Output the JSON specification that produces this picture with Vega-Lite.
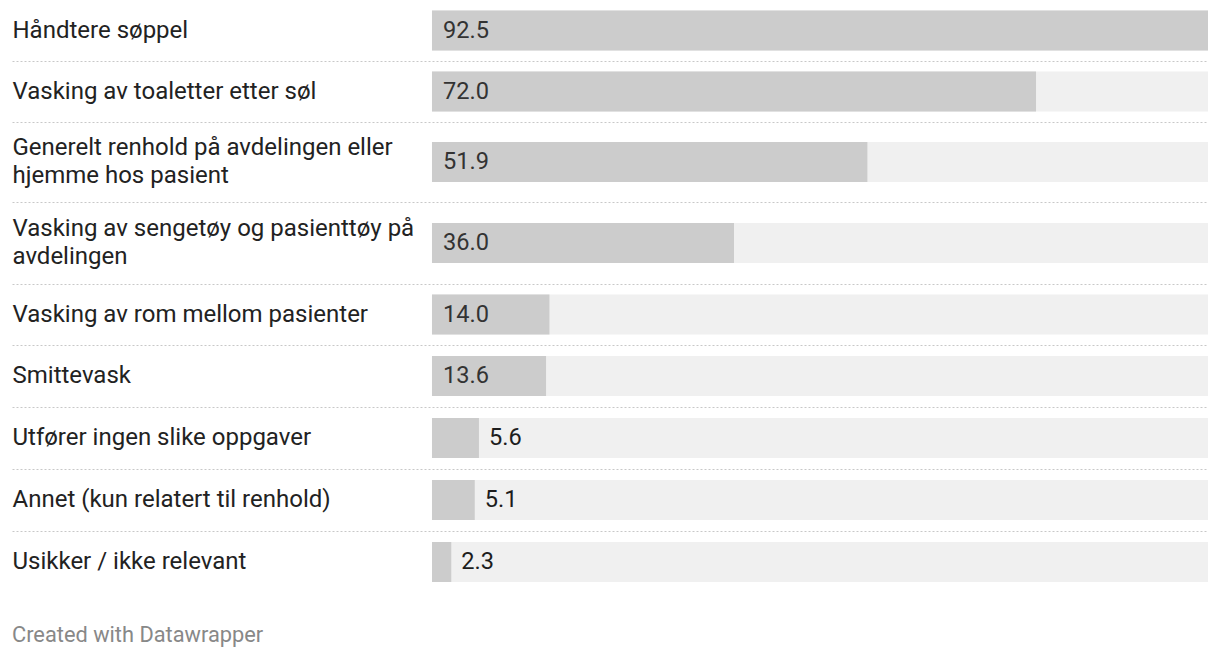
{
  "$schema": "https://vega.github.io/schema/vega-lite/v6.json",
  "padding": {"left": 12, "right": 12, "top": 0, "bottom": 0},
  "autosize": {"type": "pad"},
  "background": "white",
  "data": {"values": [
    {"rank": 1, "label": "Håndtere søppel", "value": 92.5},
    {"rank": 2, "label": "Vasking av toaletter etter søl", "value": 72.0},
    {"rank": 3, "label": "Generelt renhold på avdelingen eller|hjemme hos pasient", "value": 51.9},
    {"rank": 4, "label": "Vasking av sengetøy og pasienttøy på|avdelingen", "value": 36.0},
    {"rank": 5, "label": "Vasking av rom mellom pasienter", "value": 14.0},
    {"rank": 6, "label": "Smittevask", "value": 13.6},
    {"rank": 7, "label": "Utfører ingen slike oppgaver", "value": 5.6},
    {"rank": 8, "label": "Annet (kun relatert til renhold)", "value": 5.1},
    {"rank": 9, "label": "Usikker / ikke relevant", "value": 2.3}
  ]},
  "spacing": 0,
  "title": {"text": "Created with Datawrapper", "orient": "bottom", "anchor": "start", "fontSize": 21.8, "fontWeight": "normal", "font": "Roboto", "color": "#888888", "offset": 32},
  "vconcat": [
    {"width": 1196, "height": 61, "transform": [{"filter": "datum.rank == 1"}],
     "encoding": {"y": {"field": "label", "type": "nominal", "title": null, "scale": {"paddingInner": 0, "paddingOuter": 0}, "axis": {"labelExpr": "split(datum.label, '|')"}}},
     "layer": [
      {"mark": {"type": "bar", "height": 40, "color": "#f0f0f0"}, "encoding": {"x": {"datum": 0, "type": "quantitative", "title": null, "scale": {"domain": [-50.06, 92.5], "nice": false, "zero": false}}, "x2": {"datum": 92.5}}},
      {"mark": {"type": "bar", "height": 40, "color": "#cccccc"}, "encoding": {"x": {"field": "value", "type": "quantitative", "title": null}, "x2": {"datum": 0}}},
      {"mark": {"type": "text", "align": "left", "dx": 11, "fontSize": 23.6, "font": "Roboto", "color": "#333333"}, "encoding": {"x": {"datum": 0, "type": "quantitative", "title": null}, "text": {"field": "value", "type": "quantitative", "format": ".1f"}}}
     ]},
    {"width": 1196, "height": 61, "transform": [{"filter": "datum.rank == 2"}],
     "encoding": {"y": {"field": "label", "type": "nominal", "title": null, "scale": {"paddingInner": 0, "paddingOuter": 0}, "axis": {"labelExpr": "split(datum.label, '|')"}}},
     "layer": [
      {"mark": {"type": "bar", "height": 40, "color": "#f0f0f0"}, "encoding": {"x": {"datum": 0, "type": "quantitative", "title": null, "scale": {"domain": [-50.06, 92.5], "nice": false, "zero": false}}, "x2": {"datum": 92.5}}},
      {"mark": {"type": "bar", "height": 40, "color": "#cccccc"}, "encoding": {"x": {"field": "value", "type": "quantitative", "title": null}, "x2": {"datum": 0}}},
      {"mark": {"type": "text", "align": "left", "dx": 11, "fontSize": 23.6, "font": "Roboto", "color": "#333333"}, "encoding": {"x": {"datum": 0, "type": "quantitative", "title": null}, "text": {"field": "value", "type": "quantitative", "format": ".1f"}}}
     ]},
    {"width": 1196, "height": 80, "transform": [{"filter": "datum.rank == 3"}],
     "encoding": {"y": {"field": "label", "type": "nominal", "title": null, "scale": {"paddingInner": 0, "paddingOuter": 0}, "axis": {"labelExpr": "split(datum.label, '|')", "labelOffset": -14}}},
     "layer": [
      {"mark": {"type": "bar", "height": 40, "color": "#f0f0f0"}, "encoding": {"x": {"datum": 0, "type": "quantitative", "title": null, "scale": {"domain": [-50.06, 92.5], "nice": false, "zero": false}}, "x2": {"datum": 92.5}}},
      {"mark": {"type": "bar", "height": 40, "color": "#cccccc"}, "encoding": {"x": {"field": "value", "type": "quantitative", "title": null}, "x2": {"datum": 0}}},
      {"mark": {"type": "text", "align": "left", "dx": 11, "fontSize": 23.6, "font": "Roboto", "color": "#333333"}, "encoding": {"x": {"datum": 0, "type": "quantitative", "title": null}, "text": {"field": "value", "type": "quantitative", "format": ".1f"}}}
     ]},
    {"width": 1196, "height": 82, "transform": [{"filter": "datum.rank == 4"}],
     "encoding": {"y": {"field": "label", "type": "nominal", "title": null, "scale": {"paddingInner": 0, "paddingOuter": 0}, "axis": {"labelExpr": "split(datum.label, '|')", "labelOffset": -14}}},
     "layer": [
      {"mark": {"type": "bar", "height": 40, "color": "#f0f0f0"}, "encoding": {"x": {"datum": 0, "type": "quantitative", "title": null, "scale": {"domain": [-50.06, 92.5], "nice": false, "zero": false}}, "x2": {"datum": 92.5}}},
      {"mark": {"type": "bar", "height": 40, "color": "#cccccc"}, "encoding": {"x": {"field": "value", "type": "quantitative", "title": null}, "x2": {"datum": 0}}},
      {"mark": {"type": "text", "align": "left", "dx": 11, "fontSize": 23.6, "font": "Roboto", "color": "#333333"}, "encoding": {"x": {"datum": 0, "type": "quantitative", "title": null}, "text": {"field": "value", "type": "quantitative", "format": ".1f"}}}
     ]},
    {"width": 1196, "height": 61, "transform": [{"filter": "datum.rank == 5"}],
     "encoding": {"y": {"field": "label", "type": "nominal", "title": null, "scale": {"paddingInner": 0, "paddingOuter": 0}, "axis": {"labelExpr": "split(datum.label, '|')"}}},
     "layer": [
      {"mark": {"type": "bar", "height": 40, "color": "#f0f0f0"}, "encoding": {"x": {"datum": 0, "type": "quantitative", "title": null, "scale": {"domain": [-50.06, 92.5], "nice": false, "zero": false}}, "x2": {"datum": 92.5}}},
      {"mark": {"type": "bar", "height": 40, "color": "#cccccc"}, "encoding": {"x": {"field": "value", "type": "quantitative", "title": null}, "x2": {"datum": 0}}},
      {"mark": {"type": "text", "align": "left", "dx": 11, "fontSize": 23.6, "font": "Roboto", "color": "#333333"}, "encoding": {"x": {"datum": 0, "type": "quantitative", "title": null}, "text": {"field": "value", "type": "quantitative", "format": ".1f"}}}
     ]},
    {"width": 1196, "height": 62, "transform": [{"filter": "datum.rank == 6"}],
     "encoding": {"y": {"field": "label", "type": "nominal", "title": null, "scale": {"paddingInner": 0, "paddingOuter": 0}, "axis": {"labelExpr": "split(datum.label, '|')"}}},
     "layer": [
      {"mark": {"type": "bar", "height": 40, "color": "#f0f0f0"}, "encoding": {"x": {"datum": 0, "type": "quantitative", "title": null, "scale": {"domain": [-50.06, 92.5], "nice": false, "zero": false}}, "x2": {"datum": 92.5}}},
      {"mark": {"type": "bar", "height": 40, "color": "#cccccc"}, "encoding": {"x": {"field": "value", "type": "quantitative", "title": null}, "x2": {"datum": 0}}},
      {"mark": {"type": "text", "align": "left", "dx": 11, "fontSize": 23.6, "font": "Roboto", "color": "#333333"}, "encoding": {"x": {"datum": 0, "type": "quantitative", "title": null}, "text": {"field": "value", "type": "quantitative", "format": ".1f"}}}
     ]},
    {"width": 1196, "height": 62, "transform": [{"filter": "datum.rank == 7"}],
     "encoding": {"y": {"field": "label", "type": "nominal", "title": null, "scale": {"paddingInner": 0, "paddingOuter": 0}, "axis": {"labelExpr": "split(datum.label, '|')"}}},
     "layer": [
      {"mark": {"type": "bar", "height": 40, "color": "#f0f0f0"}, "encoding": {"x": {"datum": 0, "type": "quantitative", "title": null, "scale": {"domain": [-50.06, 92.5], "nice": false, "zero": false}}, "x2": {"datum": 92.5}}},
      {"mark": {"type": "bar", "height": 40, "color": "#cccccc"}, "encoding": {"x": {"field": "value", "type": "quantitative", "title": null}, "x2": {"datum": 0}}},
      {"mark": {"type": "text", "align": "left", "dx": 10, "fontSize": 23.6, "font": "Roboto", "color": "#1d1d1d"}, "encoding": {"x": {"field": "value", "type": "quantitative", "title": null}, "text": {"field": "value", "type": "quantitative", "format": ".1f"}}}
     ]},
    {"width": 1196, "height": 62, "transform": [{"filter": "datum.rank == 8"}],
     "encoding": {"y": {"field": "label", "type": "nominal", "title": null, "scale": {"paddingInner": 0, "paddingOuter": 0}, "axis": {"labelExpr": "split(datum.label, '|')"}}},
     "layer": [
      {"mark": {"type": "bar", "height": 40, "color": "#f0f0f0"}, "encoding": {"x": {"datum": 0, "type": "quantitative", "title": null, "scale": {"domain": [-50.06, 92.5], "nice": false, "zero": false}}, "x2": {"datum": 92.5}}},
      {"mark": {"type": "bar", "height": 40, "color": "#cccccc"}, "encoding": {"x": {"field": "value", "type": "quantitative", "title": null}, "x2": {"datum": 0}}},
      {"mark": {"type": "text", "align": "left", "dx": 10, "fontSize": 23.6, "font": "Roboto", "color": "#1d1d1d"}, "encoding": {"x": {"field": "value", "type": "quantitative", "title": null}, "text": {"field": "value", "type": "quantitative", "format": ".1f"}}}
     ]},
    {"width": 1196, "height": 62, "transform": [{"filter": "datum.rank == 9"}],
     "encoding": {"y": {"field": "label", "type": "nominal", "title": null, "scale": {"paddingInner": 0, "paddingOuter": 0}, "axis": {"labelExpr": "split(datum.label, '|')"}}},
     "layer": [
      {"mark": {"type": "bar", "height": 40, "color": "#f0f0f0"}, "encoding": {"x": {"datum": 0, "type": "quantitative", "title": null, "axis": null, "scale": {"domain": [-50.06, 92.5], "nice": false, "zero": false}}, "x2": {"datum": 92.5}}},
      {"mark": {"type": "bar", "height": 40, "color": "#cccccc"}, "encoding": {"x": {"field": "value", "type": "quantitative", "title": null, "axis": null}, "x2": {"datum": 0}}},
      {"mark": {"type": "text", "align": "left", "dx": 10, "fontSize": 23.6, "font": "Roboto", "color": "#1d1d1d"}, "encoding": {"x": {"field": "value", "type": "quantitative", "title": null, "axis": null}, "text": {"field": "value", "type": "quantitative", "format": ".1f"}}}
     ]}
  ],
  "config": {
    "view": {"stroke": null},
    "axisX": {"domain": true, "domainDash": [2, 2], "domainColor": "#c8c8c8", "domainWidth": 1, "labels": false, "ticks": false, "grid": false},
    "axisY": {"domain": false, "ticks": false, "grid": false, "labelAlign": "left", "labelPadding": 0, "labelLimit": 600, "labelFontSize": 24, "labelFont": "Roboto", "labelColor": "#222222", "labelLineHeight": 28, "minExtent": 0}
  }
}
